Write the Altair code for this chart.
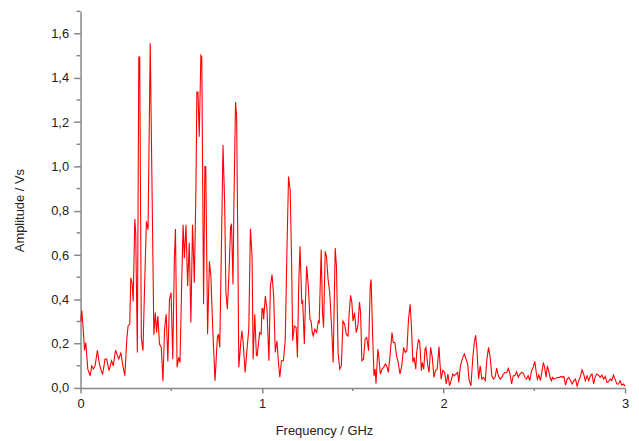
import altair as alt
import pandas as pd

# (frequency GHz, amplitude Vs), in segments
seg_a = [(0.002,0.30),(0.007,0.35),(0.016,0.25),(0.022,0.17),(0.029,0.205),(0.040,0.085),(0.053,0.055),
         (0.062,0.10),(0.071,0.085),(0.080,0.10),(0.093,0.17),(0.104,0.108),(0.117,0.07),(0.122,0.063),
         (0.135,0.13),(0.144,0.13),(0.157,0.078),(0.171,0.123),(0.180,0.10),(0.193,0.17),(0.204,0.145),
         (0.211,0.13),(0.222,0.16),(0.235,0.093),(0.244,0.055),(0.255,0.22),(0.262,0.28),(0.271,0.288),
         (0.277,0.497),(0.284,0.475),(0.290,0.39),(0.299,0.763),(0.304,0.70),(0.313,0.16),(0.321,1.494),
         (0.326,1.494),(0.335,0.228),(0.344,0.168),(0.353,0.46),(0.363,0.752),(0.372,0.715),(0.384,1.556),
         (0.404,0.24),(0.412,0.34),(0.419,0.25),(0.426,0.325),(0.435,0.198),(0.445,0.183),(0.454,0.03),
         (0.463,0.265),(0.472,0.333),(0.481,0.12)]
seg_b = [(0.490,0.40),(0.499,0.43),(0.508,0.13),(0.517,0.58),(0.523,0.718),(0.532,0.093),(0.541,0.138),
         (0.548,0.115),(0.557,0.46),(0.565,0.737),(0.572,0.587),(0.581,0.737),(0.590,0.46),(0.599,0.655),
         (0.608,0.295),(0.617,0.737),(0.627,0.475),(0.636,0.909),(0.641,1.336),(0.647,1.336),(0.654,1.134),
         (0.663,1.501),(0.668,1.494),(0.678,0.378),(0.685,0.999),(0.690,0.999),(0.700,0.243),(0.710,0.572),
         (0.718,0.505),(0.730,0.236),(0.741,0.033),(0.754,0.228),(0.760,0.243),(0.767,0.183),(0.776,0.625),
         (0.785,1.097),(0.794,0.834),(0.801,0.43),(0.809,0.355),(0.818,0.52),(0.827,0.73),(0.832,0.737),
         (0.840,0.467),(0.845,0.827),(0.854,1.291),(0.860,1.224),(0.867,0.61),(0.872,0.093),(0.882,0.198),
         (0.889,0.258),(0.896,0.205),(0.907,0.07),(0.918,0.183),(0.927,0.265),(0.936,0.718),(0.945,0.595),
         (0.951,0.13),(0.960,0.333),(0.969,0.145)]
seg_c = [(0.973,0.145),(0.987,0.25),(0.995,0.243),(1.000,0.358),(1.005,0.358),(1.009,0.31),(1.018,0.415),
         (1.027,0.358),(1.038,0.123),(1.046,0.46),(1.055,0.512),(1.064,0.415),(1.073,0.16),(1.082,0.213),
         (1.091,0.108),(1.098,0.048),(1.107,0.123),(1.118,0.123),(1.128,0.22),(1.137,0.61),(1.146,0.954),
         (1.155,0.894),(1.162,0.61),(1.169,0.213),(1.178,0.28),(1.188,0.273),(1.195,0.138),(1.202,0.46),
         (1.209,0.64),(1.219,0.385),(1.224,0.392),(1.233,0.198),(1.239,0.385),(1.246,0.55),(1.255,0.46),
         (1.264,0.31),(1.270,0.302),(1.277,0.25),(1.282,0.235),(1.291,0.265),(1.301,0.25),(1.310,0.302),
         (1.315,0.295),(1.326,0.625),(1.333,0.34),(1.339,0.273),(1.348,0.617),(1.355,0.595),(1.364,0.49),
         (1.373,0.43),(1.383,0.28),(1.392,0.115),(1.403,0.632),(1.410,0.55),(1.419,0.16),(1.428,0.085),
         (1.437,0.10),(1.446,0.302),(1.455,0.288),(1.464,0.243)]
seg_d = [(1.474,0.235),(1.479,0.325),(1.488,0.418),(1.495,0.385),(1.501,0.302),(1.510,0.34),(1.519,0.25),
         (1.528,0.28),(1.537,0.388),(1.543,0.34),(1.550,0.123),(1.559,0.13),(1.568,0.22),(1.577,0.228),
         (1.587,0.168),(1.596,0.46),(1.601,0.49),(1.610,0.22),(1.617,0.055),(1.623,0.085),(1.628,0.02),
         (1.638,0.175),(1.643,0.145),(1.652,0.063),(1.661,0.085),(1.670,0.093),(1.679,0.108),(1.687,0.10),
         (1.696,0.07),(1.705,0.145),(1.716,0.25),(1.723,0.205),(1.732,0.205),(1.741,0.145),(1.750,0.115),
         (1.760,0.063),(1.770,0.10),(1.780,0.183),(1.789,0.16),(1.798,0.168),(1.807,0.31),(1.816,0.378),
         (1.823,0.28),(1.831,0.115),(1.838,0.138),(1.847,0.085),(1.852,0.16),(1.862,0.22),(1.869,0.205),
         (1.878,0.078),(1.883,0.115),(1.891,0.085),(1.898,0.175),(1.903,0.183),(1.913,0.10),(1.920,0.07),
         (1.929,0.183),(1.938,0.138),(1.947,0.048)]
seg_e = [(1.956,0.08),(1.965,0.085),(1.975,0.187),(1.980,0.115),(1.987,0.04),(1.996,0.08),(2.006,0.07),
         (2.015,0.018),(2.024,0.063),(2.033,0.01),(2.042,0.035),(2.051,0.063),(2.060,0.055),(2.069,0.063),
         (2.078,0.07),(2.084,0.025),(2.093,0.10),(2.106,0.138),(2.115,0.153),(2.124,0.13),(2.133,0.108),
         (2.140,0.04),(2.151,0.01),(2.162,0.145),(2.171,0.213),(2.177,0.238),(2.184,0.175),(2.193,0.04),
         (2.202,0.10),(2.211,0.04),(2.220,0.048),(2.230,0.033),(2.239,0.13),(2.248,0.183),(2.257,0.138),
         (2.266,0.055),(2.275,0.04),(2.284,0.048),(2.293,0.09),(2.302,0.055),(2.312,0.04),(2.321,0.048),
         (2.330,0.063),(2.339,0.07),(2.348,0.07),(2.357,0.088),(2.366,0.063),(2.375,0.018),(2.384,0.055),
         (2.393,0.055),(2.403,0.073),(2.412,0.048),(2.421,0.063),(2.430,0.07),(2.439,0.067)]
seg_f = [(2.448,0.048),(2.457,0.04),(2.466,0.055),(2.475,0.033),(2.485,0.078),(2.494,0.093),(2.503,0.12),
         (2.512,0.063),(2.517,0.04),(2.525,0.058),(2.534,0.033),(2.543,0.078),(2.550,0.115),(2.557,0.093),
         (2.565,0.048),(2.572,0.10),(2.579,0.078),(2.587,0.048),(2.594,0.033),(2.601,0.048),(2.608,0.04),
         (2.618,0.043),(2.627,0.048),(2.636,0.046),(2.645,0.052),(2.654,0.048),(2.663,0.052),(2.672,0.013),
         (2.681,0.04),(2.690,0.048),(2.700,0.033),(2.709,0.018),(2.718,0.033),(2.727,0.04),(2.736,0.008),
         (2.745,0.033),(2.754,0.052),(2.763,0.082),(2.772,0.063),(2.781,0.033),(2.791,0.055),(2.800,0.033),
         (2.809,0.055),(2.818,0.063),(2.827,0.018),(2.836,0.052),(2.845,0.063),(2.854,0.058),(2.863,0.048),
         (2.872,0.058),(2.882,0.04),(2.891,0.052),(2.900,0.025),(2.909,0.029),(2.918,0.04),(2.927,0.033),
         (2.936,0.058),(2.945,0.04),(2.955,0.018),(2.964,0.018),(2.973,0.033),(2.982,0.013),(2.991,0.018),
         (3.000,0.008)]

x_major_ticks = [0, 1, 2, 3]
x_minor_ticks = [0.5, 1.5, 2.5]
y_major_ticks = [0.0, 0.2, 0.4, 0.6, 0.8, 1.0, 1.2, 1.4, 1.6]
y_minor_ticks = [0.1, 0.3, 0.5, 0.7, 0.9, 1.1, 1.3, 1.5, 1.7]

rows = seg_a + seg_b + seg_c + seg_d + seg_e + seg_f
df = pd.DataFrame(rows, columns=["f", "a"])

FONT = "Liberation Sans"
GRAY = "#888888"

xscale = alt.Scale(domain=[0, 3], nice=False, zero=False)
yscale = alt.Scale(domain=[0, 1.7], nice=False)

x_axis = alt.Axis(
    values=x_major_ticks, format="d", grid=False, labelFlush=False,
    domainColor=GRAY, domainWidth=1.5, tickColor=GRAY, tickWidth=1.5, tickSize=5,
    labelFont=FONT, labelFontSize=13, labelColor="#222222", labelPadding=5,
    title="Frequency / GHz", titleFont=FONT, titleFontSize=13, titleFontWeight="normal",
    titleColor="#222222", titleX=245, titleY=47, titleAlign="center", titleBaseline="alphabetic")
y_axis = alt.Axis(
    values=y_major_ticks, grid=False, labelFlush=False,
    labelExpr="replace(format(datum.value, '.1f'), '.', ',')",
    domainColor=GRAY, domainWidth=1.5, tickColor=GRAY, tickWidth=1.5, tickSize=7,
    labelFont=FONT, labelFontSize=13, labelColor="#222222", labelPadding=5,
    title="Amplitude / Vs", titleFont=FONT, titleFontSize=13, titleFontWeight="normal",
    titleColor="#222222", titleX=-61, titleY=200, titleAngle=270,
    titleAlign="center", titleBaseline="middle")

line = alt.Chart(df).mark_line(color="#ff0000", strokeWidth=1.1).encode(
    x=alt.X("f:Q", scale=xscale, axis=x_axis, title="Frequency / GHz"),
    y=alt.Y("a:Q", scale=yscale, axis=y_axis, title="Amplitude / Vs"),
)

ym = alt.Chart(pd.DataFrame({"v": y_minor_ticks})).mark_rule(
    color=GRAY, strokeWidth=1.5).encode(
    y=alt.Y("v:Q", scale=yscale, axis=y_axis, title="Amplitude / Vs"),
    x=alt.value(-4), x2=alt.value(0))

xm = alt.Chart(pd.DataFrame({"v": x_minor_ticks})).mark_rule(
    color=GRAY, strokeWidth=1.5).encode(
    x=alt.X("v:Q", scale=xscale, axis=x_axis, title="Frequency / GHz"),
    y=alt.value(379), y2=alt.value(382))

chart = alt.layer(line, ym, xm).properties(
    width=548, height=379,
    autosize=alt.AutoSizeParams(type="none"),
    padding={"left": 73, "top": 2, "right": 6, "bottom": 51},
).configure_view(stroke=None)

chart.save("out.html", embed_options={"renderer": "svg", "actions": False})
